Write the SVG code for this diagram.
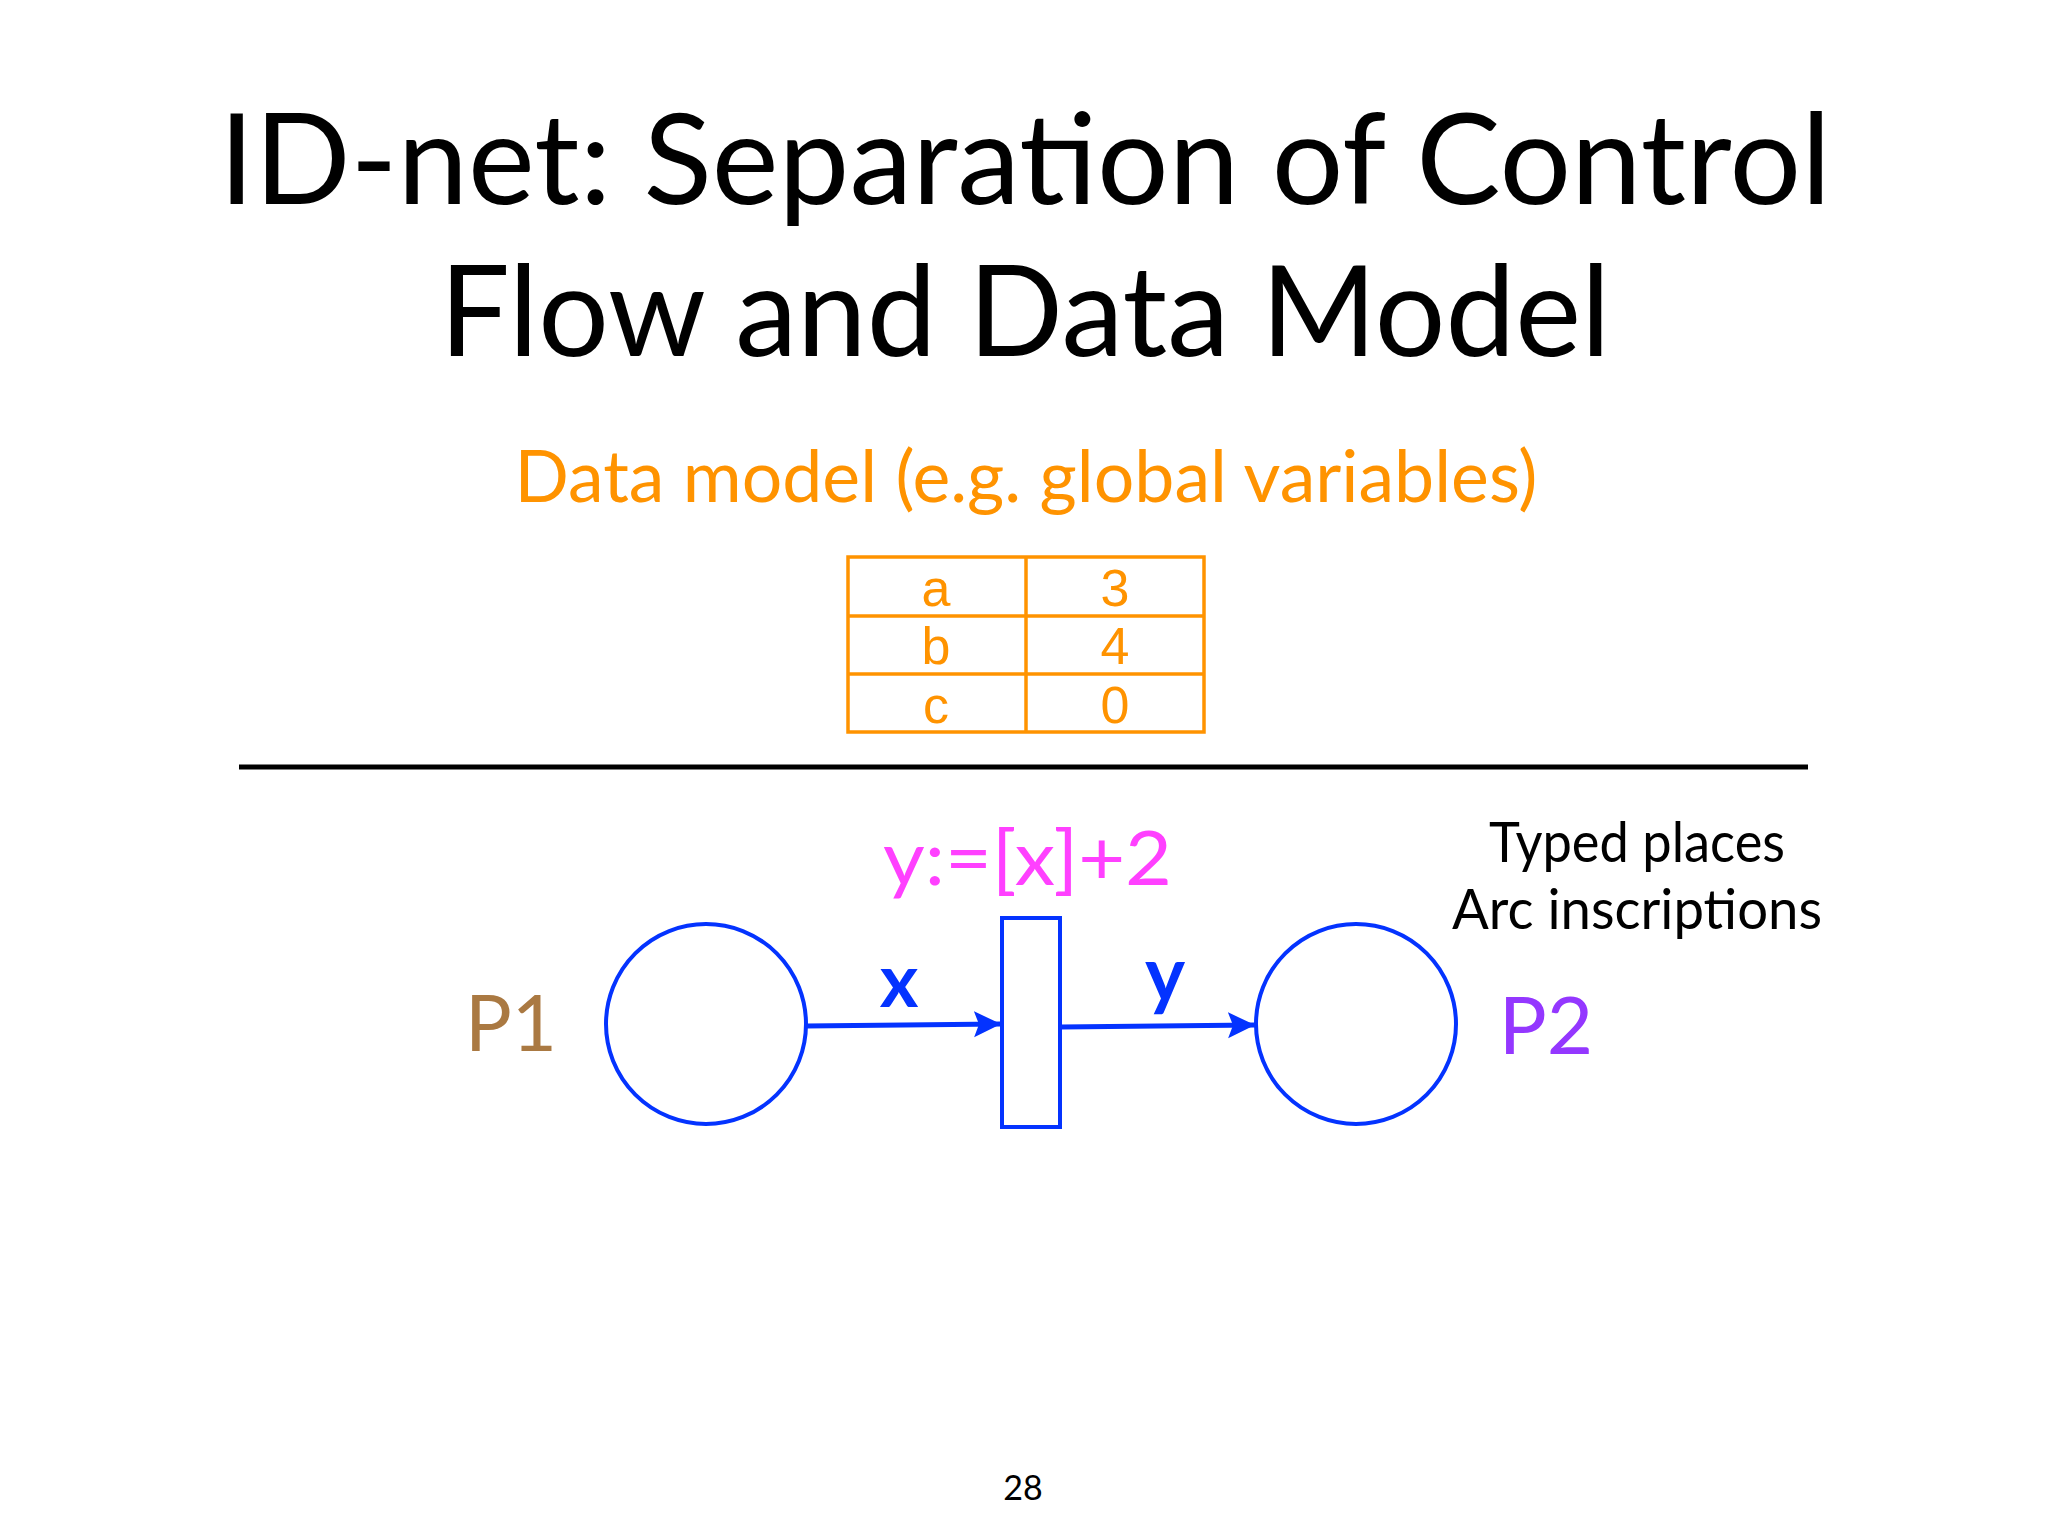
<svg xmlns="http://www.w3.org/2000/svg" width="2048" height="1536" viewBox="0 0 2048 1536">
  <style>
    .gs { font-family: Lato, "Open Sans", "DejaVu Sans", sans-serif; }
    .tbl { font-family: "Liberation Sans", Arial, sans-serif; font-size: 52px; fill: #FF9300; text-anchor: middle; }
    .place { fill: none; stroke: #0433FF; stroke-width: 4; }
    .arc { stroke: #0433FF; stroke-width: 5; fill: none; marker-end: url(#arrow); }
    .grid { stroke: #FF9300; stroke-width: 3.5; fill: none; }
  </style>
  <defs>
    <marker id="arrow" markerUnits="userSpaceOnUse" markerWidth="30" markerHeight="28" refX="27" refY="13" orient="auto">
      <path d="M0,0 L27,13 L0,26 L5,13 z" fill="#0433FF"/>
    </marker>
  </defs>
  <rect width="2048" height="1536" fill="#ffffff"/>

  <g id="title" class="gs" fill="#000000" text-anchor="middle">
    <text x="1025" y="204" font-size="126" textLength="1612" lengthAdjust="spacingAndGlyphs">ID-net: Separation of Control</text>
    <text x="1025" y="356" font-size="126" textLength="1171" lengthAdjust="spacingAndGlyphs">Flow and Data Model</text>
  </g>

  <g id="data-model-label">
    <text class="gs" x="1026" y="502" font-size="72" fill="#FF9300" text-anchor="middle" textLength="1023" lengthAdjust="spacingAndGlyphs">Data model (e.g. global variables)</text>
  </g>

  <g id="data-table">
    <rect class="grid" x="848" y="557" width="356" height="175"/>
    <line class="grid" x1="1026" y1="557" x2="1026" y2="732"/>
    <line class="grid" x1="848" y1="616" x2="1204" y2="616"/>
    <line class="grid" x1="848" y1="674" x2="1204" y2="674"/>
    <text class="tbl" x="936" y="606">a</text>
    <text class="tbl" x="1115" y="606">3</text>
    <text class="tbl" x="936" y="664">b</text>
    <text class="tbl" x="1115" y="664">4</text>
    <text class="tbl" x="936" y="723">c</text>
    <text class="tbl" x="1115" y="723">0</text>
  </g>

  <g id="divider">
    <line x1="239" y1="767" x2="1808" y2="767" stroke="#000000" stroke-width="5"/>
  </g>

  <g id="notes" class="gs" fill="#000000" text-anchor="middle" font-size="56">
    <text x="1637" y="862" textLength="296" lengthAdjust="spacingAndGlyphs">Typed places</text>
    <text x="1637" y="929" textLength="370" lengthAdjust="spacingAndGlyphs">Arc inscriptions</text>
  </g>

  <g id="P1">
    <circle class="place" cx="706" cy="1024" r="100"/>
    <text class="gs" x="511" y="1051" font-size="78" fill="#AA7942" text-anchor="middle">P1</text>
  </g>

  <g id="transition">
    <rect class="place" x="1002" y="918" width="58" height="209"/>
    <text class="gs" x="883" y="885" font-size="76" fill="#FF40FF" textLength="289" lengthAdjust="spacingAndGlyphs">y:=[x]+2</text>
  </g>

  <g id="P2">
    <circle class="place" cx="1356" cy="1024" r="100"/>
    <text class="gs" x="1546" y="1054" font-size="80" fill="#9437FF" text-anchor="middle">P2</text>
  </g>

  <g id="connectors">
    <line class="arc" x1="806" y1="1026" x2="1001" y2="1024"/>
    <line class="arc" x1="1061" y1="1027" x2="1255" y2="1025"/>
    <text class="gs" x="899" y="1007" font-size="74" font-weight="bold" fill="#0433FF" text-anchor="middle">x</text>
    <text class="gs" x="1165" y="1001" font-size="76" font-weight="bold" fill="#0433FF" text-anchor="middle">y</text>
  </g>

  <g id="page-number">
    <text class="gs" x="1023" y="1500" font-size="34" fill="#000000" text-anchor="middle">28</text>
  </g>
</svg>
